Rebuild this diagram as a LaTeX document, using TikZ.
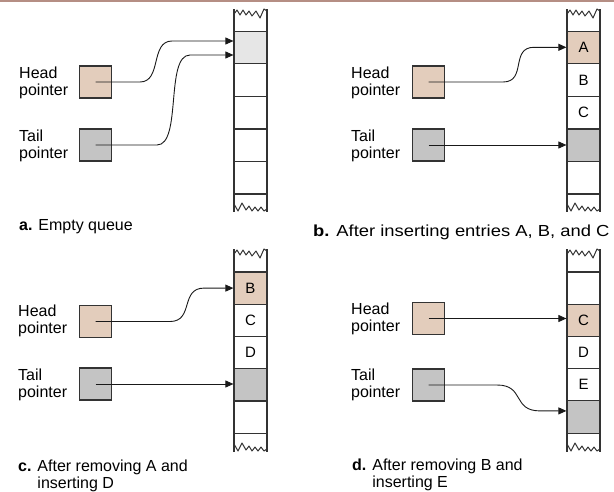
\documentclass[tikz,border=0pt]{standalone}
\usepackage{fontspec}
\setmainfont{Liberation Sans}
\usetikzlibrary{arrows.meta}
\definecolor{headfill}{HTML}{E3CDBC}
\definecolor{tailfill}{HTML}{C4C4C4}
\definecolor{emptyfill}{HTML}{E6E6E6}
\definecolor{linec}{HTML}{333333}
\definecolor{stripc}{HTML}{B58E84}
\tikzset{
  cell/.style={draw=linec, line width=1.2pt, minimum width=33pt, minimum height=32.4pt, inner sep=0pt, font=\fontsize{15}{15}\selectfont},
  ptrbox/.style={draw=linec, line width=1.4pt, minimum size=32pt, inner sep=0pt},
  lbl/.style={align=left, anchor=west, inner sep=0pt, font=\fontsize{16}{17}\selectfont},
  capt/.style={align=left, anchor=west, inner sep=0pt, font=\fontsize{16}{17}\selectfont},
  ptr/.style={draw=black!90, line width=0.9pt, -{Triangle[length=8pt,width=7pt]}},
  wall/.style={draw=linec, line width=1.2pt},
  zig/.style={draw=linec, line width=1pt, line join=round},
}
\newcommand\qwalls[3]{% x-left, y-top, y-bottom
  \draw[wall] (#1,#2) -- (#1,#3);
  \draw[wall] (#1+33,#2) -- (#1+33,#3);
  \draw[zig] (#1,#2+5) -- (#1+3,#2+1) -- (#1+6,#2+6) -- (#1+9,#2+1) -- (#1+12,#2+6) -- (#1+15,#2+2) -- (#1+18,#2+7) -- (#1+22,#2+2) -- (#1+26,#2+9) -- (#1+30,#2) -- (#1+33,#2+2);
  \draw[zig] (#1,#3-8) -- (#1+4,#3-1) -- (#1+8,#3-9) -- (#1+12,#3-2) -- (#1+15,#3-6) -- (#1+18,#3-1) -- (#1+21,#3-5) -- (#1+24,#3-1) -- (#1+27,#3-5) -- (#1+30,#3-1) -- (#1+33,#3-3);
}
\begin{document}
\begin{tikzpicture}[x=1pt,y=-1pt]
\useasboundingbox (0,0) rectangle (614,491);
\fill[stripc] (0,0) rectangle (614,1.5);

% ---------- panel a ----------
\qwalls{234}{9}{212}
\node[cell, fill=emptyfill] (a1) at (250.5,47.3) {};
\node[cell] (a2) at (250.5,79.9) {};
\node[cell] (a3) at (250.5,112.5) {};
\node[cell] (a4) at (250.5,145.1) {};
\node[cell] (a5) at (250.5,177.7) {};
\node[ptrbox, fill=headfill] (ha) at (95.5,82) {};
\node[ptrbox, fill=tailfill] (ta) at (95.5,145) {};
\node[lbl] (lha) at (19,83) {Head\\pointer};
\node[lbl] (lta) at (19,146) {Tail\\pointer};
\node[capt] (capa) at (19,227) {\textbf{a.} Empty queue};
\draw[ptr] (ha.center) -- (140,82) .. controls (162,82) and (150,41) .. (172,41) -- ([yshift=6.3pt]a1.west);
\draw[ptr] (ta.center) -- (157,145) .. controls (182,145) and (165,55) .. (190,55) -- ([yshift=-7.7pt]a1.west);

% ---------- panel b ----------
\qwalls{567}{9}{212}
\node[cell, fill=headfill] (b1) at (583.5,47.3) {A};
\node[cell] (b2) at (583.5,79.9) {B};
\node[cell] (b3) at (583.5,112.5) {C};
\node[cell, fill=tailfill] (b4) at (583.5,145.1) {};
\node[cell] (b5) at (583.5,177.7) {};
\node[ptrbox, fill=headfill] (hb) at (428.5,82) {};
\node[ptrbox, fill=tailfill] (tb) at (428.5,145) {};
\node[lbl] (lhb) at (351,83) {Head\\pointer};
\node[lbl] (ltb) at (351,146) {Tail\\pointer};
\node[capt, xscale=1.15, transform shape] (capb) at (313,232) {\textbf{b.} After inserting entries A, B, and C};
\draw[ptr] (hb.center) -- (503,82) .. controls (527,82) and (510,47.3) .. (534,47.3) -- (b1.west);
\draw[ptr] (tb.center) -- (tb.center -| b4.west);

% ---------- panel c ----------
\qwalls{234}{249}{452}
\node[cell, fill=headfill] (c1) at (250.5,288.1) {B};
\node[cell] (c2) at (250.5,320.3) {C};
\node[cell] (c3) at (250.5,352.5) {D};
\node[cell, fill=tailfill] (c4) at (250.5,384.7) {};
\node[cell] (c5) at (250.5,416.9) {};
\node[ptrbox, fill=headfill] (hc) at (95.5,321.5) {};
\node[ptrbox, fill=tailfill] (tc) at (95.5,384) {};
\node[lbl] (lhc) at (18,321) {Head\\pointer};
\node[lbl] (ltc) at (18,385) {Tail\\pointer};
\node[capt] (capc) at (18,475.5) {\textbf{c.} After removing A and\\\hphantom{\textbf{c.} }inserting D};
\draw[ptr] (hc.center) -- (170,321.5) .. controls (194,321.5) and (180,288.1) .. (204,288.1) -- (c1.west);
\draw[ptr] (tc.center) -- (tc.center -| c4.west);

% ---------- panel d ----------
\qwalls{567}{249}{452}
\node[cell] (d1) at (583.5,288.1) {};
\node[cell, fill=headfill] (d2) at (583.5,320.3) {C};
\node[cell] (d3) at (583.5,352.5) {D};
\node[cell] (d4) at (583.5,384.7) {E};
\node[cell, fill=tailfill] (d5) at (583.5,416.9) {};
\node[ptrbox, fill=headfill] (hd) at (428.5,318.5) {};
\node[ptrbox, fill=tailfill] (td) at (428.5,385) {};
\node[lbl] (lhd) at (351,319) {Head\\pointer};
\node[lbl] (ltd) at (351,385) {Tail\\pointer};
\node[capt] (capd) at (352,474.5) {\textbf{d.} After removing B and\\\hphantom{\textbf{d.} }inserting E};
\draw[ptr] (hd.center) -- (hd.center -| d2.west);
\draw[ptr] (td.center) -- (497,385) .. controls (525,385) and (512,410.9) .. (540,410.9) -- ([yshift=6pt]d5.west);
\end{tikzpicture}
\end{document}
